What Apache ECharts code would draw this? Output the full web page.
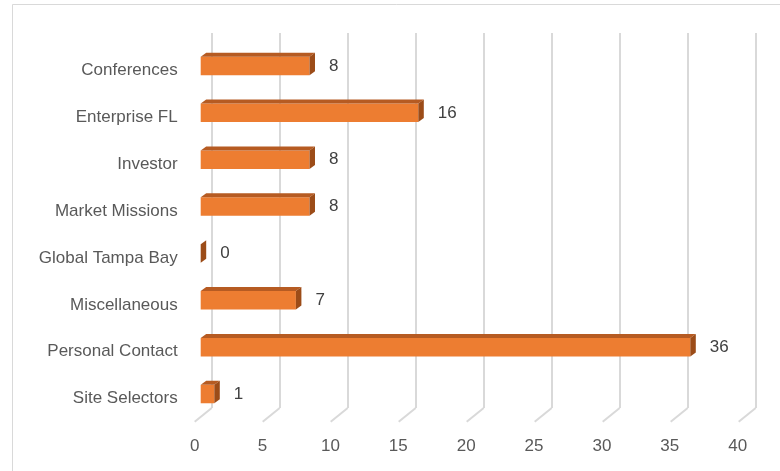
<!DOCTYPE html>
<html>
<head>
<meta charset="utf-8">
<script src="https://cdn.jsdelivr.net/npm/echarts@6/dist/echarts.min.js"></script>
<style>html,body{margin:0;padding:0;background:#fff}#c{width:780px;height:471px}</style>
</head>
<body>
<div id="c"></div>
<script>
var categories = ['Conferences','Enterprise FL','Investor','Market Missions','Global Tampa Bay','Miscellaneous','Personal Contact','Site Selectors'];
var values = [8, 16, 8, 8, 0, 7, 36, 1];
var tickValues = [0, 5, 10, 15, 20, 25, 30, 35, 40];

var FONT = 'Liberation Sans';
var DX = 5.5, DY = 4, BAR_H = 18.4;

var chart = echarts.init(document.getElementById('c'), null, {renderer: 'canvas'});
chart.setOption({
  animation: false,
  backgroundColor: '#fff',
  graphic: [{type: 'rect', shape: {x: 12.5, y: 4.5, width: 800, height: 500}, style: {fill: 'none', stroke: '#d9d9d9', lineWidth: 1}, z: -10}],
  grid: [
    {left: 211.7, top: 33, width: 544, height: 375},
    {left: 200.7, top: 42.5, width: 544, height: 375},
    {left: 194.7, top: 33, width: 543, height: 388.7}
  ],
  xAxis: [
    {gridIndex: 0, type: 'value', min: 0, max: 40, interval: 5,
     axisLine: {show: false}, axisTick: {show: false}, axisLabel: {show: false},
     splitLine: {show: true, lineStyle: {color: '#d9d9d9', width: 2}}},
    {gridIndex: 1, type: 'value', min: 0, max: 40, interval: 5, show: false},
    {gridIndex: 2, type: 'value', min: 0, max: 40, interval: 5,
     axisLine: {show: false}, axisTick: {show: false}, splitLine: {show: false},
     axisLabel: {show: true, margin: 16, color: '#595959', fontFamily: FONT, fontSize: 17}}
  ],
  yAxis: [
    {gridIndex: 0, type: 'value', min: 0, max: 1, show: false},
    {gridIndex: 1, type: 'category', data: categories, inverse: true,
     axisLine: {show: false}, axisTick: {show: false}, splitLine: {show: false},
     axisLabel: {margin: 23, color: '#595959', fontFamily: FONT, fontSize: 17,
                 formatter: '{a|{value}}',
                 rich: {a: {color: '#595959', fontFamily: FONT, fontSize: 17, padding: [9, 0, 0, 0]}}}},
    {gridIndex: 2, type: 'value', min: 0, max: 1, show: false}
  ],
  series: [
    {
      type: 'custom', xAxisIndex: 0, yAxisIndex: 0, silent: true,
      data: tickValues.map(function (v) { return [v, 0]; }),
      renderItem: function (params, api) {
        var p = api.coord([api.value(0), 0]);
        return {type: 'line', shape: {x1: p[0], y1: p[1], x2: p[0] - 17, y2: p[1] + 13.7},
                style: {stroke: '#d9d9d9', lineWidth: 2}};
      }
    },
    {
      type: 'custom', xAxisIndex: 1, yAxisIndex: 1, silent: true, z: 5,
      data: values.map(function (v, i) { return [v, i]; }),
      renderItem: function (params, api) {
        var v = api.value(0), i = api.value(1);
        var s = api.coord([0, i]);
        var e = api.coord([v, i]);
        var x0 = s[0], x1 = e[0], cy = s[1];
        var yT = cy - BAR_H / 2, yB = cy + BAR_H / 2;
        return {type: 'group', children: [
          {type: 'rect', shape: {x: x0, y: yT, width: x1 - x0, height: BAR_H},
           style: {fill: '#ed7d31'}},
          {type: 'polygon', shape: {points: [[x0, yT], [x1, yT], [x1 + DX, yT - DY], [x0 + DX, yT - DY]]},
           style: {fill: '#b65b22'}},
          {type: 'polygon', shape: {points: [[x1, yT], [x1 + DX, yT - DY], [x1 + DX, yB - DY], [x1, yB]]},
           style: {fill: '#9c4c18'}},
          {type: 'text', x: x1 + DX + 14, y: cy,
           style: {text: String(v), fill: '#404040', font: '17px "' + FONT + '"', verticalAlign: 'middle', align: 'left'}}
        ]};
      }
    }
  ]
});
</script>
</body>
</html>
